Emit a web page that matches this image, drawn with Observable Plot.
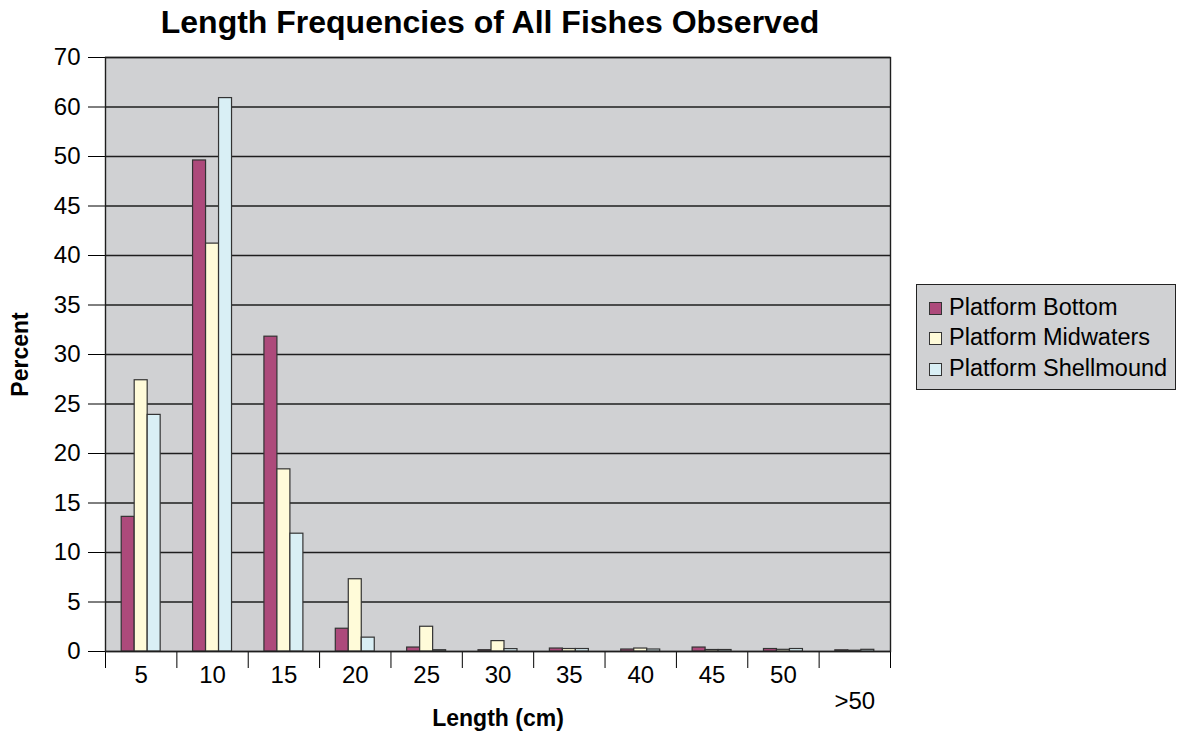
<!DOCTYPE html>
<html>
<head>
<meta charset="utf-8">
<script src="https://cdn.jsdelivr.net/npm/d3@7"></script>
<script src="https://cdn.jsdelivr.net/npm/@observablehq/plot@0.6"></script>
<style>
  body { margin: 0; background: #fff; font-family: "Liberation Sans", Arial, sans-serif; }
  #wrap { position: relative; width: 1177px; height: 734px; overflow: hidden; }
  #title { position: absolute; left: 0; top: 0; width: 980px; height: 44px; line-height: 44px;
           text-align: center; font-weight: bold; font-size: 32px; color: #000; }
  #chart { position: absolute; left: 0; top: 44px; }
  #legend { position: absolute; left: 916px; top: 284px; width: 260px; height: 106px;
            background: #d0d1d3; border: 1.5px solid #222; box-sizing: border-box; }
  .item { position: absolute; left: 12px; height: 30px; line-height: 30px; font-size: 23.5px; color: #000; white-space: nowrap; }
  .sw { display: inline-block; width: 11px; height: 11px; border: 1px solid #333; margin-right: 7px; vertical-align: 0px; }
</style>
</head>
<body>
<div id="wrap">
  <div id="title">Length Frequencies of All Fishes Observed</div>
  <div id="chart"></div>
  <div id="legend"></div>
</div>
<script>
// Length classes (cm) and percent of fishes in each class, by habitat
const lengthClasses = ["5", "10", "15", "20", "25", "30", "35", "40", "45", "50", ">50"];
const seriesNames = ["Platform Bottom", "Platform Midwaters", "Platform Shellmound"];
const seriesColors = ["#ad4a7b", "#fffbd9", "#d9eff5"];
const platformBottom     = [13.6, 49.6, 31.8, 2.3, 0.4, 0.13, 0.3, 0.2, 0.4, 0.25, 0.12];
const platformMidwaters  = [27.4, 41.2, 18.4, 7.3, 2.5, 1.05, 0.25, 0.3, 0.15, 0.17, 0.08];
const platformShellmound = [23.9, 61.8, 11.9, 1.4, 0.13, 0.24, 0.25, 0.2, 0.15, 0.25, 0.17];
const yTicks = [0, 5, 10, 15, 20, 25, 30, 35, 40, 45, 50, 60, 70];

const seriesValues = [platformBottom, platformMidwaters, platformShellmound];
const rows = [];
seriesNames.forEach((name, s) => {
  lengthClasses.forEach((cls, i) => rows.push({i, s, series: name, cls, value: seriesValues[s][i]}));
});

// The percent axis spaces its ticks evenly: steps of 5 up to 50, then steps of 10.
// tickIndex maps a percent onto that tick spacing.
const tickIndex = d3.scaleLinear().domain(yTicks).range(d3.range(yTicks.length));

// Group layout within each length class (fractions of one class width)
const barFrac = 0.182;
const groupOffset = (1 - barFrac * seriesNames.length) / 2;

const plot = Plot.plot({
  width: 1177, height: 690,
  marginTop: 13, marginBottom: 83, marginLeft: 105, marginRight: 287,
  style: { fontFamily: "'Liberation Sans', Arial, sans-serif", fontSize: "24px", color: "#000", background: "#fff" },
  x: { domain: [0, lengthClasses.length], ticks: d3.range(lengthClasses.length + 1), tickSize: 17, tickFormat: () => "", label: null },
  y: { transform: tickIndex, domain: [0, yTicks.length - 1], ticks: d3.range(yTicks.length),
       tickFormat: k => yTicks[k], tickSize: 17, tickPadding: 8, label: null },
  color: { domain: seriesNames, range: seriesColors },
  marks: [
    Plot.frame({ fill: "#d0d1d3" }),
    Plot.ruleY(yTicks, { stroke: "#1e1e1e", strokeWidth: 1.4 }),
    Plot.rectY(rows, {
      x1: d => d.i + groupOffset + d.s * barFrac,
      x2: d => d.i + groupOffset + (d.s + 1) * barFrac,
      y: "value",
      fill: "series",
      stroke: "#333",
      strokeWidth: 1.2
    }),
    Plot.frame({ stroke: "#1e1e1e", strokeWidth: 1.4 }),
    Plot.text(lengthClasses.slice(0, -1), { x: (d, i) => i + 0.5, text: d => d, frameAnchor: "bottom", lineAnchor: "middle", dy: 24 }),
    Plot.text(lengthClasses.slice(-1), { x: lengthClasses.length - 0.5, text: d => d, frameAnchor: "bottom", lineAnchor: "middle", dy: 50 }),
    Plot.text(["Length (cm)"], { text: d => d, frameAnchor: "bottom", lineAnchor: "middle", dy: 67, fontWeight: "bold", fontSize: 23 }),
    Plot.text(["Percent"], { text: d => d, frameAnchor: "left", textAnchor: "middle", lineAnchor: "middle", dx: -85, rotate: -90, fontWeight: "bold", fontSize: 23 })
  ]
});
document.getElementById("chart").appendChild(plot);

// Legend
const legend = document.getElementById("legend");
seriesNames.forEach((name, s) => {
  const item = document.createElement("div");
  item.className = "item";
  item.style.top = (7 + s * 30.3) + "px";
  const sw = document.createElement("span");
  sw.className = "sw";
  sw.style.background = seriesColors[s];
  item.appendChild(sw);
  item.appendChild(document.createTextNode(name));
  legend.appendChild(item);
});
</script>
</body>
</html>
